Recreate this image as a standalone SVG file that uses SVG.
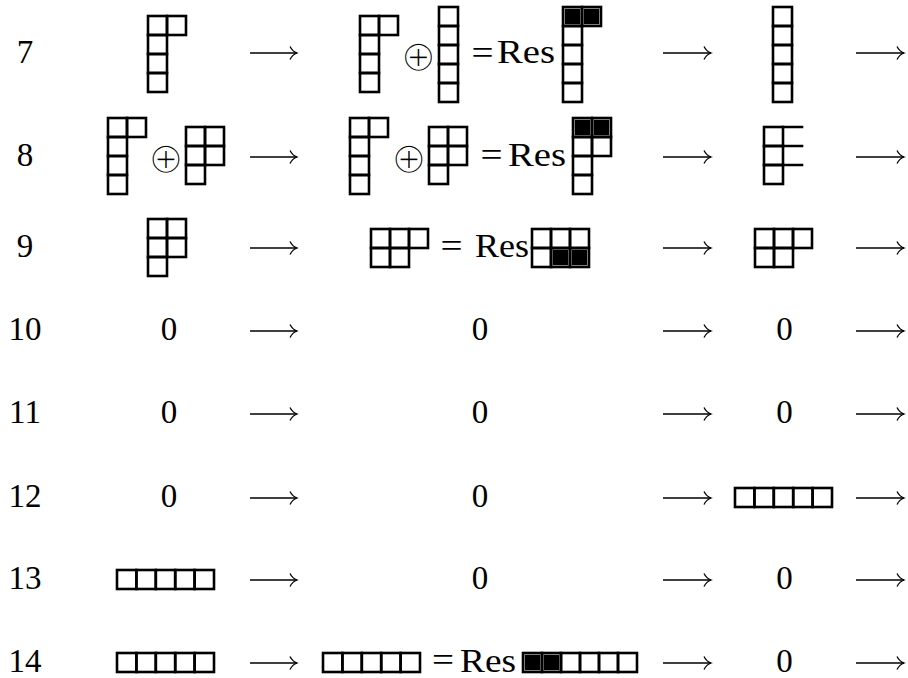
<svg xmlns="http://www.w3.org/2000/svg" width="908" height="678" viewBox="0 0 908 678">
<style>
.c{fill:none;stroke:#000;stroke-width:2.6}
.e{fill:none;stroke:#000;stroke-width:2.6;stroke-linecap:square}
.k{fill:#000}
.t{font-family:"Liberation Serif","Times New Roman",serif;font-size:33px;fill:#000;text-anchor:middle}
.q{font-family:"Liberation Serif","Times New Roman",serif;font-size:34px;fill:#000;text-anchor:middle}
.r{font-family:"Liberation Serif","Times New Roman",serif;font-size:34px;fill:#000}
.o{font-family:"DejaVu Sans",sans-serif;font-size:44px;fill:#000;stroke:#fff;stroke-width:2;text-anchor:middle}
.a{fill:none;stroke:#000;stroke-width:1.3}
</style>
<defs>
<marker id="ah" markerUnits="userSpaceOnUse" viewBox="0 0 10 16" refX="8.5" refY="8" markerWidth="10" markerHeight="16" orient="auto">
<path d="M1.5 1.5 Q4 6.5 8.5 8 Q4 9.5 1.5 14.5" fill="none" stroke="#000" stroke-width="1.3"/>
</marker>
<rect id="s" width="19" height="19" class="c"/>
<rect id="w" width="19.4" height="19" class="c"/>
<rect id="b" x="1.7" y="1.7" width="15.6" height="15.6" class="k"/>
</defs>
<rect width="908" height="678" fill="#fff"/>

<g id="labels">
<text class="t" x="25" y="63">7</text>
<text class="t" x="25" y="166">8</text>
<text class="t" x="25" y="257">9</text>
<text class="t" x="25" y="340">10</text>
<text class="t" x="25" y="423">11</text>
<text class="t" x="25" y="507">12</text>
<text class="t" x="25" y="589">13</text>
<text class="t" x="25" y="672">14</text>
</g>

<!-- row 7 -->
<g id="r7c1">
<use href="#s" x="148" y="16"/><use href="#s" x="167" y="16"/><use href="#s" x="148" y="35"/><use href="#s" x="148" y="54"/><use href="#s" x="148" y="73"/>
</g>
<g id="r7c2">
<use href="#s" x="360" y="16"/><use href="#s" x="379" y="16"/><use href="#s" x="360" y="35"/><use href="#s" x="360" y="54"/><use href="#s" x="360" y="73"/>
<text class="o" x="418.5" y="71">⊕</text>
<use href="#s" x="439" y="7"/><use href="#s" x="439" y="26"/><use href="#s" x="439" y="45"/><use href="#s" x="439" y="64"/><use href="#s" x="439" y="83"/>
<text class="q" transform="translate(482.5 64) scale(1.15 1)">=</text>
<text class="r" x="497" y="63" textLength="58" lengthAdjust="spacingAndGlyphs">Res</text>
<use href="#s" x="563" y="7"/><use href="#b" x="563" y="7"/><use href="#s" x="582" y="7"/><use href="#b" x="582" y="7"/><use href="#s" x="563" y="26"/><use href="#s" x="563" y="45"/><use href="#s" x="563" y="64"/><use href="#s" x="563" y="83"/>
</g>
<g id="r7c3">
<use href="#s" x="773" y="7"/><use href="#s" x="773" y="26"/><use href="#s" x="773" y="45"/><use href="#s" x="773" y="64"/><use href="#s" x="773" y="83"/>
</g>

<!-- row 8 -->
<g id="r8c1">
<use href="#s" x="108" y="118"/><use href="#s" x="127" y="118"/><use href="#s" x="108" y="137"/><use href="#s" x="108" y="156"/><use href="#s" x="108" y="175"/>
<text class="o" x="166" y="173">⊕</text>
<use href="#s" x="186" y="127"/><use href="#s" x="205" y="127"/><use href="#s" x="186" y="146"/><use href="#s" x="205" y="146"/><use href="#s" x="186" y="165"/>
</g>
<g id="r8c2">
<use href="#s" x="350" y="118"/><use href="#s" x="369" y="118"/><use href="#s" x="350" y="137"/><use href="#s" x="350" y="156"/><use href="#s" x="350" y="175"/>
<text class="o" x="409" y="173">⊕</text>
<use href="#s" x="429" y="127"/><use href="#s" x="448" y="127"/><use href="#s" x="429" y="146"/><use href="#s" x="448" y="146"/><use href="#s" x="429" y="165"/>
<text class="q" transform="translate(491.5 166) scale(1.15 1)">=</text>
<text class="r" x="508" y="166" textLength="58" lengthAdjust="spacingAndGlyphs">Res</text>
<use href="#s" x="573" y="118"/><use href="#b" x="573" y="118"/><use href="#s" x="592" y="118"/><use href="#b" x="592" y="118"/><use href="#s" x="573" y="137"/><use href="#s" x="592" y="137"/><use href="#s" x="573" y="156"/><use href="#s" x="573" y="175"/>
</g>
<g id="r8c3">
<use href="#s" x="764" y="127"/><use href="#s" x="764" y="146"/><use href="#s" x="764" y="165"/>
<path class="e" d="M783 127 H802 M783 146 H802 M783 165 H802"/>
</g>

<!-- row 9 -->
<g id="r9c1">
<use href="#s" x="148" y="219"/><use href="#s" x="167" y="219"/><use href="#s" x="148" y="238"/><use href="#s" x="167" y="238"/><use href="#s" x="148" y="257"/>
</g>
<g id="r9c2">
<use href="#s" x="371" y="229"/><use href="#s" x="390" y="229"/><use href="#s" x="409" y="229"/><use href="#s" x="371" y="248"/><use href="#s" x="390" y="248"/>
<text class="q" transform="translate(451.5 257) scale(1.15 1)">=</text>
<text class="r" x="475" y="257" textLength="54" lengthAdjust="spacingAndGlyphs">Res</text>
<use href="#s" x="532" y="229"/><use href="#s" x="551" y="229"/><use href="#s" x="570" y="229"/><use href="#s" x="532" y="248"/><use href="#s" x="551" y="248"/><use href="#b" x="551" y="248"/><use href="#s" x="570" y="248"/><use href="#b" x="570" y="248"/>
</g>
<g id="r9c3">
<use href="#s" x="755" y="229"/><use href="#s" x="774" y="229"/><use href="#s" x="793" y="229"/><use href="#s" x="755" y="248"/><use href="#s" x="774" y="248"/>
</g>

<!-- rows 10-11 -->
<g id="r10c1"><text class="t" x="169" y="340">0</text></g>
<g id="r10c2"><text class="t" x="480" y="340">0</text></g>
<g id="r10c3"><text class="t" x="784.5" y="340">0</text></g>
<g id="r11c1"><text class="t" x="169" y="423">0</text></g>
<g id="r11c2"><text class="t" x="480" y="423">0</text></g>
<g id="r11c3"><text class="t" x="784.5" y="423">0</text></g>

<!-- row 12 -->
<g id="r12c1"><text class="t" x="169" y="507">0</text></g>
<g id="r12c2"><text class="t" x="480" y="507">0</text></g>
<g id="r12c3">
<use href="#w" x="735" y="488"/><use href="#w" x="754.4" y="488"/><use href="#w" x="773.8" y="488"/><use href="#w" x="793.2" y="488"/><use href="#w" x="812.6" y="488"/>
</g>

<!-- row 13 -->
<g id="r13c1">
<use href="#w" x="117" y="570"/><use href="#w" x="136.4" y="570"/><use href="#w" x="155.8" y="570"/><use href="#w" x="175.2" y="570"/><use href="#w" x="194.6" y="570"/>
</g>
<g id="r13c2"><text class="t" x="480" y="589">0</text></g>
<g id="r13c3"><text class="t" x="784.5" y="589">0</text></g>

<!-- row 14 -->
<g id="r14c1">
<use href="#w" x="117" y="653"/><use href="#w" x="136.4" y="653"/><use href="#w" x="155.8" y="653"/><use href="#w" x="175.2" y="653"/><use href="#w" x="194.6" y="653"/>
</g>
<g id="r14c2">
<use href="#w" x="323" y="653"/><use href="#w" x="342.4" y="653"/><use href="#w" x="361.8" y="653"/><use href="#w" x="381.2" y="653"/><use href="#w" x="400.6" y="653"/>
<text class="q" transform="translate(443 671) scale(1.15 1)">=</text>
<text class="r" x="460" y="672" textLength="56" lengthAdjust="spacingAndGlyphs">Res</text>
<use href="#s" x="523" y="653"/><use href="#b" x="523" y="653"/><use href="#s" x="542" y="653"/><use href="#b" x="542" y="653"/><use href="#s" x="561" y="653"/><use href="#s" x="580" y="653"/><use href="#s" x="599" y="653"/><use href="#s" x="618" y="653"/>
</g>
<g id="r14c3"><text class="t" x="784.5" y="672">0</text></g>

<g id="connectors">
<path class="a" marker-end="url(#ah)" d="M250 53 H297"/>
<path class="a" marker-end="url(#ah)" d="M663 53 H711"/>
<path class="a" marker-end="url(#ah)" d="M856 53 H904"/>
<path class="a" marker-end="url(#ah)" d="M250 157 H297"/>
<path class="a" marker-end="url(#ah)" d="M663 157 H711"/>
<path class="a" marker-end="url(#ah)" d="M856 157 H904"/>
<path class="a" marker-end="url(#ah)" d="M250 248 H297"/>
<path class="a" marker-end="url(#ah)" d="M663 248 H711"/>
<path class="a" marker-end="url(#ah)" d="M856 248 H904"/>
<path class="a" marker-end="url(#ah)" d="M250 331 H297"/>
<path class="a" marker-end="url(#ah)" d="M663 331 H711"/>
<path class="a" marker-end="url(#ah)" d="M856 331 H904"/>
<path class="a" marker-end="url(#ah)" d="M250 414 H297"/>
<path class="a" marker-end="url(#ah)" d="M663 414 H711"/>
<path class="a" marker-end="url(#ah)" d="M856 414 H904"/>
<path class="a" marker-end="url(#ah)" d="M250 498 H297"/>
<path class="a" marker-end="url(#ah)" d="M663 498 H711"/>
<path class="a" marker-end="url(#ah)" d="M856 498 H904"/>
<path class="a" marker-end="url(#ah)" d="M250 580 H297"/>
<path class="a" marker-end="url(#ah)" d="M663 580 H711"/>
<path class="a" marker-end="url(#ah)" d="M856 580 H904"/>
<path class="a" marker-end="url(#ah)" d="M250 663 H297"/>
<path class="a" marker-end="url(#ah)" d="M663 663 H711"/>
<path class="a" marker-end="url(#ah)" d="M856 663 H904"/>
</g>
</svg>
